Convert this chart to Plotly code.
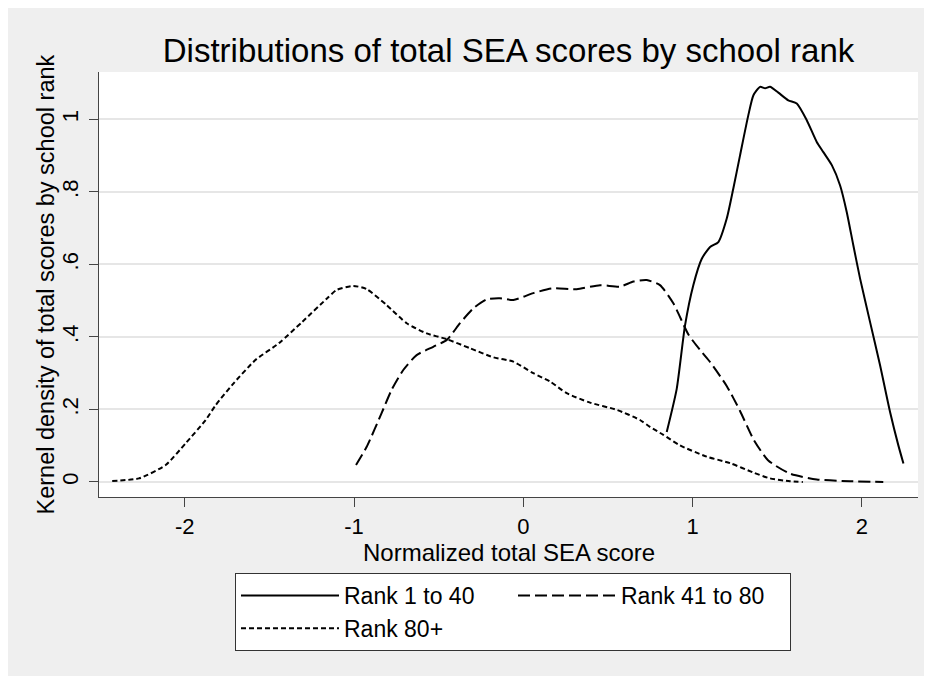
import plotly.graph_objects as go

# ---- data ----
rank1_40_x = [0.847, 0.906, 0.955, 1.004, 1.054, 1.103, 1.152, 1.201, 1.240, 1.280,
              1.329, 1.359, 1.398, 1.428, 1.457, 1.506, 1.565, 1.615, 1.674, 1.733,
              1.772, 1.822, 1.871, 1.910, 1.949, 1.989, 2.048, 2.107, 2.166, 2.215, 2.245]
rank1_40_y = [0.138, 0.257, 0.432, 0.543, 0.616, 0.648, 0.662, 0.726, 0.809, 0.901,
              1.012, 1.067, 1.090, 1.086, 1.090, 1.074, 1.053, 1.044, 0.998, 0.938,
              0.910, 0.874, 0.818, 0.745, 0.653, 0.561, 0.441, 0.322, 0.193, 0.101, 0.051]

rank41_80_x = [-0.988, -0.925, -0.837, -0.778, -0.709, -0.630, -0.532, -0.452, -0.374, -0.295,
               -0.216, -0.138, -0.059, 0.059, 0.168, 0.315, 0.453, 0.571, 0.650, 0.729,
               0.807, 0.886, 0.975, 1.044, 1.103, 1.201, 1.280, 1.359, 1.445, 1.575,
               1.733, 1.930, 2.126]
rank41_80_y = [0.047, 0.097, 0.190, 0.254, 0.309, 0.350, 0.373, 0.392, 0.438, 0.479,
               0.504, 0.507, 0.502, 0.521, 0.534, 0.532, 0.543, 0.539, 0.553, 0.557,
               0.543, 0.493, 0.407, 0.364, 0.331, 0.265, 0.196, 0.118, 0.060, 0.023,
               0.007, 0.002, 0.000]

rank80p_x = [-2.428, -2.270, -2.112, -1.994, -1.876, -1.817, -1.719, -1.581, -1.443, -1.305,
             -1.158, -1.102, -1.004, -0.925, -0.807, -0.689, -0.571, -0.452, -0.315, -0.177,
             -0.059, 0.059, 0.158, 0.256, 0.394, 0.552, 0.689, 0.748, 0.827, 0.925,
             1.083, 1.221, 1.359, 1.457, 1.575, 1.651]
rank80p_y = [0.003, 0.010, 0.047, 0.107, 0.171, 0.212, 0.268, 0.337, 0.383, 0.442,
             0.507, 0.530, 0.541, 0.532, 0.488, 0.438, 0.410, 0.394, 0.369, 0.344,
             0.332, 0.300, 0.277, 0.245, 0.219, 0.199, 0.171, 0.152, 0.130, 0.101,
             0.070, 0.052, 0.026, 0.010, 0.002, 0.000]

series_names = ["Rank 1 to 40", "Rank 41 to 80", "Rank 80+"]
x_ticks = [-2, -1, 0, 1, 2]
x_tick_labels = ["-2", "-1", "0", "1", "2"]
y_ticks = [0, 0.2, 0.4, 0.6, 0.8, 1.0]
y_tick_labels = ["0", ".2", ".4", ".6", ".8", "1"]

FONT = "Liberation Sans, Arial, Helvetica, sans-serif"

fig = go.Figure()
fig.add_trace(go.Scatter(x=rank1_40_x, y=rank1_40_y, mode="lines", name=series_names[0],
                         line=dict(color="black", width=2, shape="spline", smoothing=0.6)))
fig.add_trace(go.Scatter(x=rank41_80_x, y=rank41_80_y, mode="lines", name=series_names[1],
                         line=dict(color="black", width=2, dash="12px,5px", shape="spline", smoothing=0.6)))
fig.add_trace(go.Scatter(x=rank80p_x, y=rank80p_y, mode="lines", name=series_names[2],
                         line=dict(color="black", width=2, dash="5px,3px", shape="spline", smoothing=0.6)))

# the page puts the figure 8px in from the top-left corner; the figure runs
# past the window edge so the grey background fills to the right/bottom
OFF = 8
W, H = 932, 676
L, T = 99 - OFF, 72 - OFF
R, B = (W + OFF) - 918, (H + OFF) - 497
pw, ph = W - L - R, H - T - B


def px(page_x):
    return (page_x - OFF - L) / pw


def py(page_y):
    return (H - B - (page_y - OFF)) / ph


fig.update_layout(
    width=W, height=H,
    margin=dict(l=L, r=R, t=T, b=B, autoexpand=False),
    paper_bgcolor="#efefef",
    plot_bgcolor="white",
    font=dict(family=FONT, color="black"),
    title=dict(text="Distributions of total SEA scores by school rank",
               font=dict(size=33, color="black"),
               x=0.5, xref="paper", xanchor="center",
               y=1 - (50 - OFF) / H, yref="container", yanchor="middle"),
    xaxis=dict(range=[-2.506, 2.331], tickvals=x_ticks, ticktext=x_tick_labels,
               ticks="outside", ticklen=9,
               tickwidth=1.2, tickcolor="#444", showline=True, linecolor="#444", linewidth=1.3,
               showgrid=False, zeroline=False, tickfont=dict(size=22)),
    yaxis=dict(range=[-0.0414, 1.131], tickvals=y_ticks, ticktext=y_tick_labels, tickangle=-90,
               ticks="outside", ticklen=9, tickwidth=1.2, tickcolor="#444",
               showline=True, linecolor="#444", linewidth=1.3, ticklabelstandoff=2,
               showgrid=True, gridcolor="#e6e6e6", gridwidth=1.5, zeroline=False,
               tickfont=dict(size=22)),
    annotations=[
        dict(text="Normalized total SEA score", xref="paper", yref="paper",
             x=0.5, y=py(552), xanchor="center", yanchor="middle",
             showarrow=False, font=dict(size=24)),
        dict(text="Kernel density of total scores by school rank", xref="paper", yref="paper",
             x=px(45), y=0.5, xanchor="center", yanchor="middle", textangle=-90,
             showarrow=False, font=dict(size=23.5)),
    ],
    showlegend=True,
    legend=dict(orientation="h", x=px(235), xanchor="left", y=py(573), yanchor="top",
                bgcolor="white", bordercolor="#333", borderwidth=1,
                font=dict(size=23), itemwidth=98, entrywidth=164, entrywidthmode="pixels",
                tracegroupgap=0),
)

fig.write_html("out.html")
